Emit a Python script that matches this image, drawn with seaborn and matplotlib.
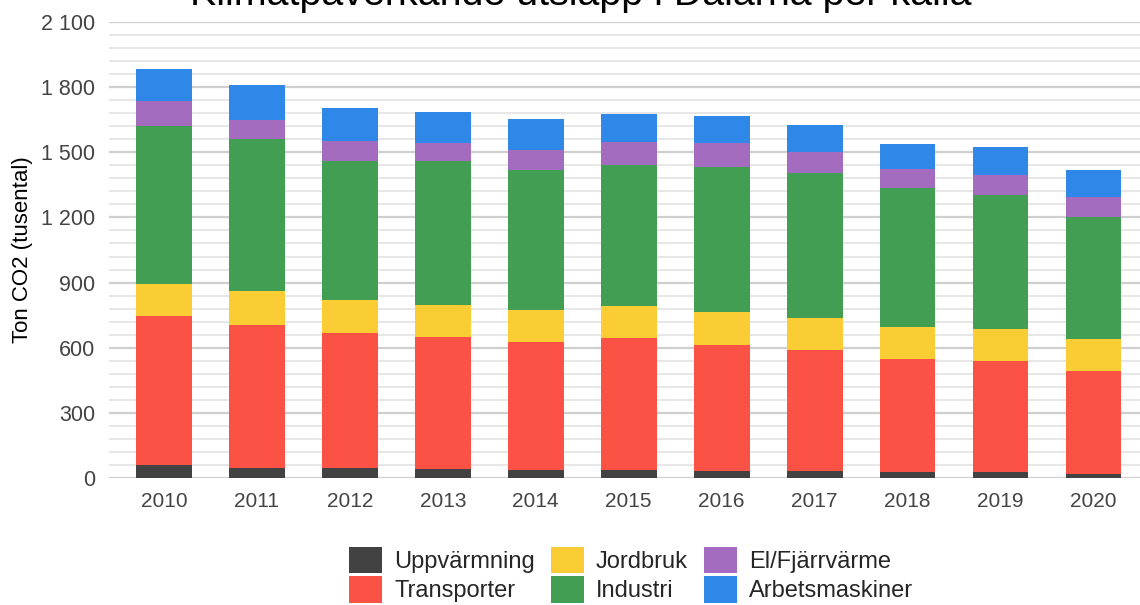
import numpy as np
import pandas as pd
import seaborn as sns
import matplotlib.pyplot as plt
from matplotlib.patches import Patch
from matplotlib.ticker import MultipleLocator, FuncFormatter

# Data (ton CO2, tusental)
years = ['2010', '2011', '2012', '2013', '2014', '2015', '2016', '2017', '2018', '2019', '2020']
uppvarmning = [60, 47, 47, 42, 37, 37, 32, 32, 28, 26, 20]
transporter = [688, 659, 621, 606, 588, 606, 582, 559, 522, 513, 473]
jordbruk = [145, 154, 150, 149, 150, 148, 149, 145, 147, 146, 147]
industri = [730, 703, 644, 665, 644, 652, 670, 670, 637, 618, 561]
el_fjarrvarme = [113, 85, 90, 80, 93, 105, 109, 96, 89, 93, 92]
arbetsmaskiner = [146, 161, 151, 144, 140, 127, 125, 122, 117, 127, 124]

sources = ['Uppvärmning', 'Transporter', 'Jordbruk', 'Industri', 'El/Fjärrvärme', 'Arbetsmaskiner']
colors = ['#424242', '#FC5246', '#F9CD33', '#429E53', '#A36CBE', '#2F87E8']

df = pd.DataFrame({
    'År': years,
    'Uppvärmning': uppvarmning,
    'Transporter': transporter,
    'Jordbruk': jordbruk,
    'Industri': industri,
    'El/Fjärrvärme': el_fjarrvarme,
    'Arbetsmaskiner': arbetsmaskiner,
})

# cumulative sums so every layer can be drawn from zero, top layer first
cum = df[sources].cumsum(axis=1)
cum['År'] = df['År']

sns.set_style('white')
plt.rcParams['font.family'] = ['Liberation Sans', 'DejaVu Sans']

fig = plt.figure(figsize=(11.4, 6.05), dpi=100)
ax = fig.add_axes([109 / 1140, 127 / 605, 1 - 109 / 1140, 456 / 605])

for src, col in reversed(list(zip(sources, colors))):
    sns.barplot(data=cum, x='År', y=src, color=col, saturation=1, width=0.6,
                linewidth=0, ax=ax, zorder=3)

ax.set_ylim(0, 2100)
ax.set_xlim(-0.59, 10.5)
ax.yaxis.set_major_locator(MultipleLocator(300))
ax.yaxis.set_minor_locator(MultipleLocator(60))
ax.yaxis.set_major_formatter(FuncFormatter(lambda v, p: f'{int(v):,}'.replace(',', ' ')))
ax.grid(axis='y', which='major', color='#cfcfcf', linewidth=1.6, zorder=0)
ax.grid(axis='y', which='minor', color='#e0e0e0', linewidth=1.1, zorder=0)
ax.grid(axis='x', visible=False)
ax.set_axisbelow(True)
for s in ax.spines.values():
    s.set_visible(False)
ax.tick_params(axis='both', length=0, labelsize=15, labelcolor='#444444')
ax.tick_params(axis='y', labelsize=15.5, pad=10)
ax.tick_params(axis='x', pad=10)
ax.set_xlabel('')
ax.set_ylabel('Ton CO2 (tusental)', fontsize=16, color='black', labelpad=6)

fig.text(581 / 1140, 1 - 5 / 605, 'Klimatpåverkande utsläpp i Dalarna per källa',
         ha='center', va='baseline', fontsize=28.4, color='black')

handles = [Patch(facecolor=c, edgecolor='none', label=s) for s, c in zip(sources, colors)]
fig.legend(handles=handles, loc='upper center', bbox_to_anchor=(631 / 1140, 1 - 535 / 605),
           ncol=3, frameon=False, fontsize=17, handlelength=1.4, handleheight=1.36,
           handletextpad=0.5, columnspacing=0.68, labelspacing=0.12, borderpad=0)

fig.savefig('out.png', dpi=100)
